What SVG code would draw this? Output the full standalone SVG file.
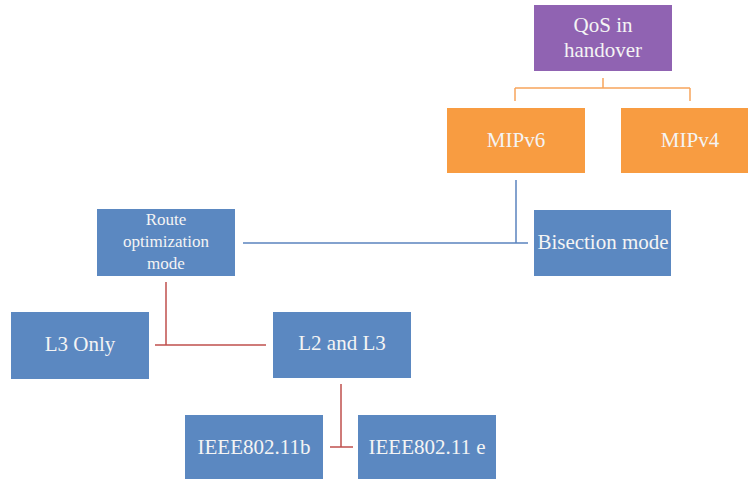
<svg xmlns="http://www.w3.org/2000/svg" width="748" height="479" viewBox="0 0 748 479">
  <style>
    .box text { font-family: "Liberation Serif", "DejaVu Serif", serif; fill: #f4f4f4; text-anchor: middle; font-size: 21px; }
    .purple { fill: #9063b2; }
    .orange { fill: #f89c41; }
    .blue { fill: #5b88c1; }
    .small text { font-size: 17px; }
    .c-orange { stroke: #f7a55c; stroke-width: 1.5; fill: none; }
    .c-blue { stroke: #5b84bf; stroke-width: 1.5; fill: none; }
    .c-red { stroke: #c0504d; stroke-width: 1.5; fill: none; }
  </style>
  <rect width="748" height="479" fill="#ffffff"/>

  <g id="connectors">
    <path class="c-orange" d="M603 78 V88 M515 88 H690 M515 88 V101 M690 88 V101"/>
    <path class="c-blue" d="M516 180 V243 M243 243 H528"/>
    <path class="c-red" d="M166 282 V345 M155 345 H266"/>
    <path class="c-red" d="M341 384 V447 M330 447 H353"/>
  </g>

  <g id="qos" class="box">
    <rect class="purple" x="534" y="5" width="138" height="66"/>
    <text x="603" y="32">QoS in</text>
    <text x="603" y="57">handover</text>
  </g>
  <g id="mipv6" class="box">
    <rect class="orange" x="447" y="108" width="138" height="65"/>
    <text x="516" y="147">MIPv6</text>
  </g>
  <g id="mipv4" class="box">
    <rect class="orange" x="621" y="108" width="127" height="65"/>
    <text x="690" y="147">MIPv4</text>
  </g>
  <g id="route" class="box small">
    <rect class="blue" x="97" y="209" width="138" height="67"/>
    <text x="166" y="225">Route</text>
    <text x="166" y="247">optimization</text>
    <text x="166" y="269">mode</text>
  </g>
  <g id="bisection" class="box">
    <rect class="blue" x="534" y="210" width="137" height="66"/>
    <text x="603" y="249">Bisection mode</text>
  </g>
  <g id="l3only" class="box">
    <rect class="blue" x="11" y="312" width="138" height="67"/>
    <text x="80" y="351">L3 Only</text>
  </g>
  <g id="l2l3" class="box">
    <rect class="blue" x="273" y="312" width="138" height="66"/>
    <text x="342" y="350">L2 and L3</text>
  </g>
  <g id="ieee80211b" class="box">
    <rect class="blue" x="185" y="415" width="138" height="64"/>
    <text x="254" y="454">IEEE802.11b</text>
  </g>
  <g id="ieee80211e" class="box">
    <rect class="blue" x="358" y="415" width="138" height="64"/>
    <text x="427" y="454">IEEE802.11 e</text>
  </g>
</svg>
